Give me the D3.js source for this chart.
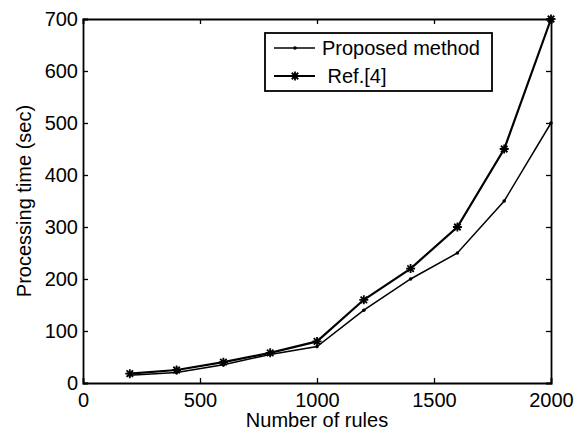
<!DOCTYPE html>
<html>
<head>
<meta charset="utf-8">
<script src="https://cdn.jsdelivr.net/npm/d3@7"></script>
<style>
body { margin: 0; background: #fff; }
text { font-family: "Liberation Sans", Arial, sans-serif; fill: #000; }
</style>
</head>
<body>
<script>
// chart values
var rules = [200, 400, 600, 800, 1000, 1200, 1400, 1600, 1800, 2000];
var proposed = [15, 20, 35, 55, 70, 140, 200, 250, 350, 500];
var ref4 = [18, 25, 40, 58, 80, 160, 220, 300, 450, 700];
var seriesNames = ["Proposed method", " Ref.[4]"];
var xTicks = [0, 500, 1000, 1500, 2000];
var yTicks = [0, 100, 200, 300, 400, 500, 600, 700];

var W = 582, H = 435;
var margin = {left: 83, right: 31, top: 19, bottom: 52};

var svg = d3.select("body")
	.append("svg")
	.attr("width", W)
	.attr("height", H);

var x = d3.scaleLinear().domain([0, 2000]).range([margin.left, W - margin.right]);
var y = d3.scaleLinear().domain([0, 700]).range([H - margin.bottom, margin.top]);

// axes, ticks pointing inward like matlab
var tickLen = 5;
svg.append("g")
	.attr("transform", "translate(0," + y(0) + ")")
	.call(d3.axisBottom(x).tickValues(xTicks).tickSize(-tickLen).tickPadding(tickLen + 5).tickFormat(d3.format("d")))
	.call(styleAxis);
svg.append("g")
	.attr("transform", "translate(0," + y(700) + ")")
	.call(d3.axisTop(x).tickValues(xTicks).tickSize(-tickLen).tickFormat(""))
	.call(styleAxis);
svg.append("g")
	.attr("transform", "translate(" + x(0) + ",0)")
	.call(d3.axisLeft(y).tickValues(yTicks).tickSize(-tickLen).tickPadding(tickLen).tickFormat(d3.format("d")))
	.call(styleAxis);
svg.append("g")
	.attr("transform", "translate(" + x(2000) + ",0)")
	.call(d3.axisRight(y).tickValues(yTicks).tickSize(-tickLen).tickFormat(""))
	.call(styleAxis);

function styleAxis(g) {
	g.select(".domain").attr("stroke", "#000").attr("stroke-width", 1.8);
	g.selectAll(".tick line").attr("stroke", "#000").attr("stroke-width", 1.3);
	g.selectAll(".tick text")
		.style("font-family", "'Liberation Sans', Arial, sans-serif")
		.style("font-size", "20px")
		.attr("fill", "#000");
}

// axis titles
svg.append("text")
	.attr("x", (x(0) + x(2000)) / 2)
	.attr("y", 427)
	.attr("text-anchor", "middle")
	.style("font-size", "20px")
	.text("Number of rules");

svg.append("text")
	.attr("transform", "translate(31," + (y(350)) + ") rotate(-90)")
	.attr("text-anchor", "middle")
	.style("font-size", "20px")
	.text("Processing time (sec)");

// lines
var line = d3.line()
	.x(function(d) { return x(d[0]); })
	.y(function(d) { return y(d[1]); });

var propData = rules.map(function(r, i) { return [r, proposed[i]]; });
var refData = rules.map(function(r, i) { return [r, ref4[i]]; });

svg.append("path")
	.datum(propData)
	.attr("d", line)
	.attr("fill", "none")
	.attr("stroke", "#000")
	.attr("stroke-width", 1.5);

svg.append("path")
	.datum(refData)
	.attr("d", line)
	.attr("fill", "none")
	.attr("stroke", "#000")
	.attr("stroke-width", 2.2);

// star marker: plus and cross, like matlab '*'
function starPath(r) {
	var d = r * 0.72;
	return "M" + (-r) + ",0L" + r + ",0M0," + (-r) + "L0," + r +
		"M" + (-d) + "," + (-d) + "L" + d + "," + d +
		"M" + (-d) + "," + d + "L" + d + "," + (-d);
}

svg.selectAll(".pmark")
	.data(propData)
	.enter()
	.append("circle")
	.attr("class", "pmark")
	.attr("cx", function(d) { return x(d[0]); })
	.attr("cy", function(d) { return y(d[1]); })
	.attr("r", 1.8)
	.attr("fill", "#000");

svg.selectAll(".rmark")
	.data(refData)
	.enter()
	.append("path")
	.attr("class", "rmark")
	.attr("transform", function(d) { return "translate(" + x(d[0]) + "," + y(d[1]) + ")"; })
	.attr("d", starPath(4.5))
	.attr("stroke", "#000")
	.attr("stroke-width", 1.8)
	.attr("fill", "none");

// legend
var legend = svg.append("g").attr("transform", "translate(265,33)");
legend.append("rect")
	.attr("width", 227)
	.attr("height", 58)
	.attr("fill", "#fff")
	.attr("stroke", "#000")
	.attr("stroke-width", 1.8);

seriesNames.forEach(function(name, i) {
	var ly = 15 + i * 28;
	legend.append("line")
		.attr("x1", 9).attr("x2", 50)
		.attr("y1", ly).attr("y2", ly)
		.attr("stroke", "#000")
		.attr("stroke-width", i === 0 ? 1.5 : 2.2);
	if (i === 0) {
		legend.append("circle").attr("cx", 30).attr("cy", ly).attr("r", 1.8).attr("fill", "#000");
	} else {
		legend.append("path")
			.attr("transform", "translate(30," + ly + ")")
			.attr("d", starPath(4.5))
			.attr("stroke", "#000")
			.attr("stroke-width", 1.8);
	}
	legend.append("text")
		.attr("x", 57)
		.attr("y", ly + 7)
		.style("font-size", "20px")
		.style("white-space", "pre")
		.text(name);
});
</script>
</body>
</html>
